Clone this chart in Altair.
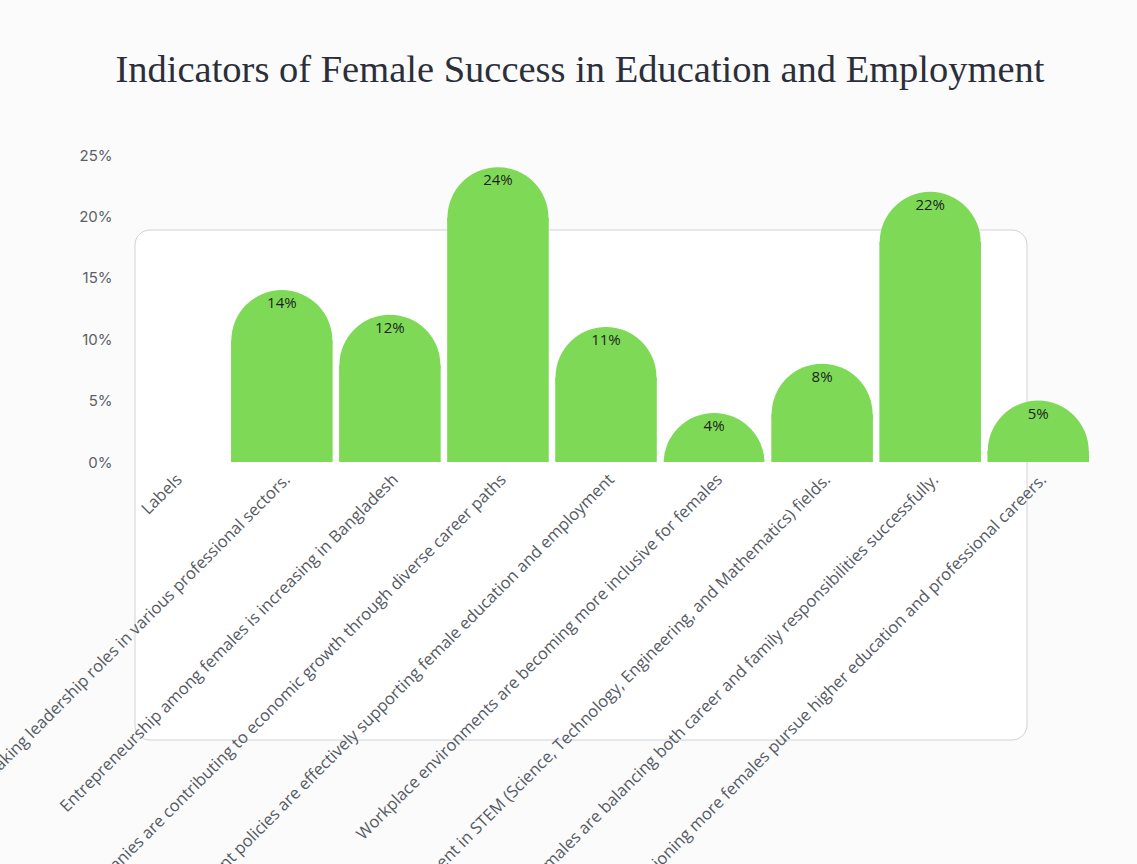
import altair as alt
import pandas as pd

categories = [
    "Labels",
    "More females are taking leadership roles in various professional sectors.",
    "Entrepreneurship among females is increasing in Bangladesh",
    "Female-led companies are contributing to economic growth through diverse career paths",
    "Government policies are effectively supporting female education and employment",
    "Workplace environments are becoming more inclusive for females",
    "There is growing female involvement in STEM (Science, Technology, Engineering, and Mathematics) fields.",
    "More females are balancing both career and family responsibilities successfully.",
    "Society is increasingly envisioning more females pursue higher education and professional careers.",
]
values = [0, 14, 12, 24, 11, 4, 8, 22, 5]
value_labels = ["", "14%", "12%", "24%", "11%", "4%", "8%", "22%", "5%"]
y_ticks = [0, 5, 10, 15, 20, 25]

df = pd.DataFrame({"cat": categories, "val": values, "lab": value_labels})
bars_df = df[df["val"] > 0]

W, H = 966, 307
BAR_PX = 101
R_UNITS = (BAR_PX / 2) / (H / 25)  # radius of rounded top, in value units

x_scale = alt.Scale(domain=categories, paddingInner=0.06, paddingOuter=0)
x_enc = alt.X(
    "cat:N",
    sort=categories,
    scale=x_scale,
    axis=alt.Axis(
        title=None, labelAngle=-45, labelFont="Open Sans", labelFontSize=16.5,
        labelColor="#555a63", labelLimit=2000, ticks=False, domain=False,
        labelPadding=9, labelOverlap=False, zindex=2,
    ),
)
y_scale = alt.Scale(domain=[0, 25], nice=False)
y_axis = alt.Axis(
    title=None, values=y_ticks, labelExpr="datum.value + '%'",
    grid=False, domain=False, ticks=False, labelFont="Inter",
    labelFontSize=15, labelColor="#5a5f68", labelPadding=11, zindex=2,
)

panel = alt.Chart(pd.DataFrame({"a": [0]})).mark_rect(
    fill="white", stroke="#cfd2da", strokeWidth=1, cornerRadius=15
).encode(
    x=alt.value(12), x2=alt.value(904), y=alt.value(75), y2=alt.value(585)
)

base = alt.Chart(bars_df).transform_calculate(
    body=f"max(datum.val - {R_UNITS}, 0)",
    cy=f"datum.val - {R_UNITS}",
)

bars = base.mark_bar(color="#7ed957", clip=True).encode(
    x=x_enc,
    y=alt.Y("body:Q", scale=y_scale, axis=y_axis),
    y2=alt.datum(0),
)

caps = base.mark_point(
    shape="circle", filled=True, opacity=1, color="#7ed957",
    size=BAR_PX ** 2, clip=True, strokeWidth=0,
).encode(
    x=alt.X("cat:N", sort=categories, scale=x_scale),
    y=alt.Y("cy:Q", scale=y_scale),
)

text = alt.Chart(bars_df).mark_text(
    baseline="middle", dy=13, font="Open Sans", fontSize=15, color="#1f1f1f"
).encode(
    x=alt.X("cat:N", sort=categories, scale=x_scale),
    y=alt.Y("val:Q", scale=y_scale),
    text="lab:N",
)

chart = alt.layer(panel, bars, caps, text).properties(
    width=W, height=H,
    title=alt.Title(
        "Indicators of Female Success in Education and Employment",
        font="Liberation Serif", fontSize=38.5, fontWeight="normal",
        color="#2b2f3a", anchor="middle", offset=58, dx=-26,
    ),
    background="#fbfbfb",
    padding={"left": 123, "top": 155, "right": 48, "bottom": 402},
    autosize=alt.AutoSizeParams(type="none"),
).configure_view(stroke=None)

chart.save("out.html", embed_options={"renderer": "svg", "actions": False})
